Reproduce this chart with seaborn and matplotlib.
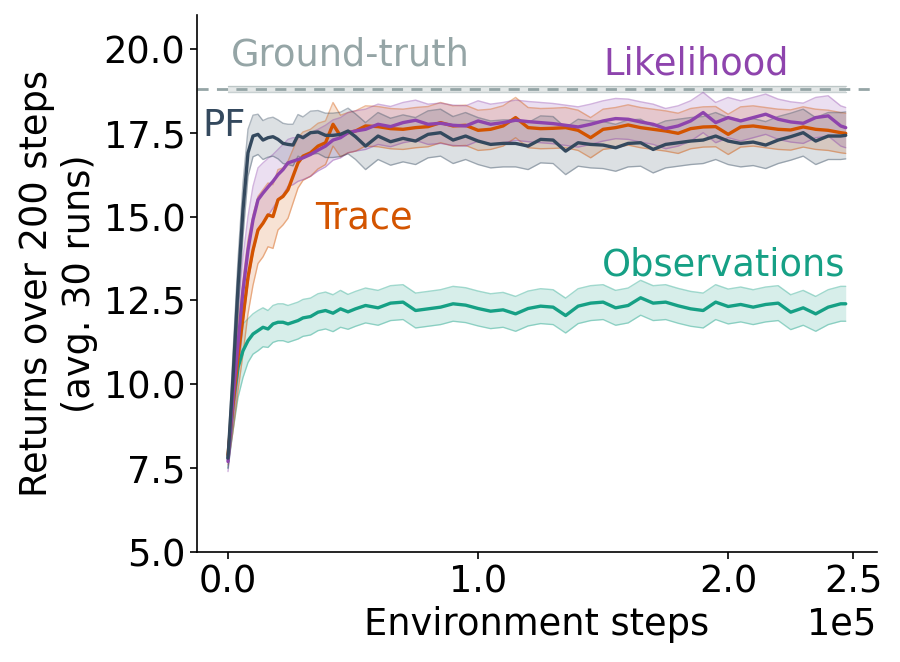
import numpy as np
import pandas as pd
import matplotlib
matplotlib.use("Agg")
import matplotlib.pyplot as plt
import seaborn as sns

# ---------------- data ----------------
steps = [0, 2000, 4000, 6000, 8000, 10000, 12000, 14000, 16000, 18000, 20000,
         22000, 24000, 26000, 28000, 30000, 33000, 36000, 39000, 42000, 45000,
         48000, 51000, 55000, 60000, 65000, 70000, 75000, 80000, 85000, 90000,
         95000, 100000, 105000, 110000, 115000, 120000, 125000, 130000, 135000,
         140000, 145000, 150000, 155000, 160000, 165000, 170000, 175000, 180000,
         185000, 190000, 195000, 200000, 205000, 210000, 215000, 220000, 225000,
         230000, 235000, 240000, 245000, 247000]

pf_mean = [7.8, 10.2, 12.9, 15.2, 16.9, 17.4, 17.45, 17.28, 17.35, 17.38, 17.3,
           17.18, 17.15, 17.13, 17.42, 17.35, 17.5, 17.52, 17.42, 17.42, 17.45,
           17.55, 17.38, 17.1, 17.4, 17.23, 17.33, 17.25, 17.45, 17.5, 17.28,
           17.4, 17.25, 17.15, 17.18, 17.18, 17.1, 17.3, 17.28, 16.95, 17.2,
           17.15, 17.13, 17.05, 17.18, 17.2, 17.0, 17.15, 17.2, 17.25, 17.28,
           17.4, 17.25, 17.18, 17.22, 17.13, 17.28, 17.38, 17.5, 17.25, 17.4,
           17.4, 17.42]
pf_sd = [0.3, 0.7, 0.8, 0.8, 0.7, 0.62, 0.6, 0.58, 0.58, 0.58, 0.58,
         0.6, 0.6, 0.62, 0.62, 0.62, 0.64, 0.64, 0.66, 0.66, 0.66,
         0.68, 0.68, 0.7, 0.7, 0.7, 0.7, 0.7, 0.7, 0.7, 0.7,
         0.7, 0.7, 0.7, 0.7, 0.7, 0.7, 0.7, 0.7, 0.7, 0.7,
         0.7, 0.7, 0.7, 0.7, 0.7, 0.7, 0.7, 0.7, 0.7, 0.7,
         0.7, 0.7, 0.7, 0.7, 0.7, 0.7, 0.7, 0.7, 0.7, 0.7,
         0.7, 0.7]

lik_mean = [7.7, 9.6, 11.2, 12.8, 14.0, 14.9, 15.5, 15.7, 15.88, 16.05, 16.25,
            16.4, 16.6, 16.65, 16.7, 16.75, 16.85, 16.98, 17.1, 17.28, 17.35,
            17.5, 17.55, 17.6, 17.75, 17.68, 17.8, 17.87, 17.75, 17.78, 17.72,
            17.7, 17.85, 17.75, 17.8, 17.87, 17.83, 17.8, 17.77, 17.72, 17.67,
            17.75, 17.85, 17.92, 17.9, 17.82, 17.75, 17.62, 17.7, 17.85, 18.1,
            17.8, 17.95, 17.85, 17.95, 18.05, 17.9, 17.82, 17.78, 17.95, 18.0,
            17.7, 17.65]
lik_sd = [0.3, 0.8, 1.0, 1.0, 1.0, 1.0, 0.95, 0.9, 0.85, 0.8, 0.75,
          0.75, 0.7, 0.7, 0.65, 0.65, 0.65, 0.62, 0.62, 0.6, 0.6,
          0.6, 0.6, 0.6, 0.6, 0.6, 0.6, 0.6, 0.6, 0.6, 0.6,
          0.6, 0.6, 0.6, 0.6, 0.6, 0.6, 0.6, 0.6, 0.6, 0.6,
          0.6, 0.6, 0.6, 0.6, 0.6, 0.6, 0.6, 0.6, 0.6, 0.6,
          0.6, 0.6, 0.6, 0.6, 0.6, 0.6, 0.6, 0.6, 0.6, 0.6,
          0.6, 0.6]

trace_mean = [7.9, 9.4, 10.8, 12.0, 13.2, 14.0, 14.6, 14.8, 15.05, 15.0, 15.5,
              15.6, 15.8, 16.2, 16.6, 16.8, 16.9, 17.1, 17.2, 17.75, 17.4,
              17.5, 17.55, 17.7, 17.68, 17.62, 17.6, 17.65, 17.68, 17.8, 17.7,
              17.72, 17.57, 17.6, 17.7, 17.95, 17.65, 17.62, 17.63, 17.65, 17.57,
              17.35, 17.6, 17.65, 17.73, 17.65, 17.6, 17.55, 17.48, 17.62, 17.67,
              17.68, 17.45, 17.67, 17.7, 17.65, 17.6, 17.58, 17.67, 17.6, 17.57,
              17.5, 17.48]
trace_sd = [0.3, 0.8, 1.0, 1.1, 1.1, 1.05, 1.0, 1.0, 0.95, 0.95, 0.9,
            0.85, 0.85, 0.8, 0.75, 0.72, 0.7, 0.68, 0.65, 0.65, 0.62,
            0.6, 0.6, 0.6, 0.6, 0.6, 0.6, 0.6, 0.6, 0.6, 0.6,
            0.6, 0.6, 0.6, 0.6, 0.6, 0.6, 0.6, 0.6, 0.6, 0.6,
            0.6, 0.6, 0.6, 0.6, 0.6, 0.6, 0.6, 0.6, 0.6, 0.6,
            0.6, 0.6, 0.6, 0.6, 0.6, 0.6, 0.6, 0.6, 0.6, 0.6,
            0.6, 0.6]

obs_mean = [7.8, 9.4, 10.5, 11.0, 11.3, 11.5, 11.6, 11.7, 11.65, 11.8, 11.85,
            11.85, 11.8, 11.85, 11.9, 11.98, 12.02, 12.15, 12.2, 12.12, 12.25,
            12.16, 12.25, 12.35, 12.28, 12.42, 12.45, 12.2, 12.25, 12.3, 12.4,
            12.36, 12.26, 12.18, 12.22, 12.1, 12.26, 12.33, 12.3, 12.05, 12.33,
            12.42, 12.45, 12.28, 12.35, 12.58, 12.42, 12.45, 12.34, 12.25, 12.2,
            12.45, 12.32, 12.38, 12.3, 12.38, 12.42, 12.15, 12.28, 12.1, 12.3,
            12.4, 12.4]
obs_sd = [0.3, 0.8, 0.9, 0.8, 0.65, 0.6, 0.6, 0.58, 0.55, 0.55, 0.55,
          0.55, 0.55, 0.55, 0.55, 0.55, 0.55, 0.55, 0.55, 0.55, 0.55,
          0.52, 0.52, 0.52, 0.52, 0.52, 0.52, 0.52, 0.52, 0.52, 0.52,
          0.52, 0.52, 0.52, 0.52, 0.52, 0.52, 0.52, 0.52, 0.52, 0.52,
          0.52, 0.52, 0.52, 0.52, 0.52, 0.52, 0.52, 0.52, 0.52, 0.52,
          0.52, 0.52, 0.52, 0.52, 0.52, 0.52, 0.52, 0.52, 0.52, 0.52,
          0.52, 0.52]

ground_truth = 18.8
ground_truth_sd = 0.08

series_names = ["Observations", "Trace", "Likelihood", "PF"]
series_means = [obs_mean, trace_mean, lik_mean, pf_mean]
series_sds = [obs_sd, trace_sd, lik_sd, pf_sd]
colors = {"Observations": "#16a085", "Trace": "#d35400",
          "Likelihood": "#8e44ad", "PF": "#34495e", "Ground-truth": "#95a5a6"}

# ---------------- plotting ----------------
sns.set_style("ticks")
plt.rcParams["font.family"] = ["DejaVu Sans"]
for key in ["text.color", "axes.labelcolor", "xtick.color", "ytick.color",
            "axes.edgecolor"]:
    plt.rcParams[key] = "black"
FS = 26.5

fig = plt.figure(figsize=(9, 6.62), dpi=100)
ax = fig.add_axes([0.219, 0.166, 0.755, 0.811])

rows = []
for name, m, s in zip(series_names, series_means, series_sds):
    for x, mv, sv in zip(steps, m, s):
        rows.append({"steps": x, "ret": mv, "sd": sv, "method": name})
df = pd.DataFrame(rows)

# ground-truth band
gt_x = np.array(steps, dtype=float)
ax.fill_between(gt_x, ground_truth - ground_truth_sd, ground_truth + ground_truth_sd,
                color=colors["Ground-truth"], alpha=0.25, lw=0)
ax.plot(gt_x, np.full_like(gt_x, ground_truth - ground_truth_sd),
        color=colors["Ground-truth"], alpha=0.5, lw=1)
ax.plot(gt_x, np.full_like(gt_x, ground_truth + ground_truth_sd),
        color=colors["Ground-truth"], alpha=0.5, lw=1)
ax.axhline(ground_truth, color=colors["Ground-truth"], ls="--", lw=2, dashes=(4, 3))

for name in series_names:
    d = df[df["method"] == name]
    lo = d["ret"] - d["sd"]
    hi = d["ret"] + d["sd"]
    ax.fill_between(d["steps"], lo, hi, color=colors[name], alpha=0.17, lw=0)
    ax.plot(d["steps"], lo, color=colors[name], alpha=0.4, lw=1)
    ax.plot(d["steps"], hi, color=colors[name], alpha=0.4, lw=1)

sns.lineplot(data=df, x="steps", y="ret", hue="method", palette=colors,
             hue_order=series_names, lw=2.4, ax=ax, legend=False, estimator=None)

ax.set_ylim(5, 21)
ax.set_xticks([0, 100000, 200000, 250000])
ax.set_yticks([5.0, 7.5, 10.0, 12.5, 15.0, 17.5, 20.0])
ax.ticklabel_format(style="sci", axis="x", scilimits=(0, 0))
ax.tick_params(labelsize=FS, length=5, width=1.2, colors="black")
ax.xaxis.get_offset_text().set_fontsize(FS)
for sp in ["left", "bottom"]:
    ax.spines[sp].set_linewidth(1.2)
    ax.spines[sp].set_color("black")
sns.despine(ax=ax)

ax.set_xlabel("Environment steps", fontsize=FS, color="black")
ax.set_ylabel("Returns over 200 steps\n(avg. 30 runs)", fontsize=FS, color="black")

ax.text(1000, 19.8, "Ground-truth", color=colors["Ground-truth"], fontsize=FS,
        ha="left", va="center")
ax.text(7000, 17.7, "PF", color=colors["PF"], fontsize=FS, ha="right", va="center")
ax.text(35000, 14.95, "Trace", color=colors["Trace"], fontsize=FS, ha="left", va="center")
ax.text(150000, 19.55, "Likelihood", color=colors["Likelihood"], fontsize=FS,
        ha="left", va="center")
ax.text(247000, 13.55, "Observations", color=colors["Observations"], fontsize=FS,
        ha="right", va="center")

fig.savefig("out.png", dpi=100)
